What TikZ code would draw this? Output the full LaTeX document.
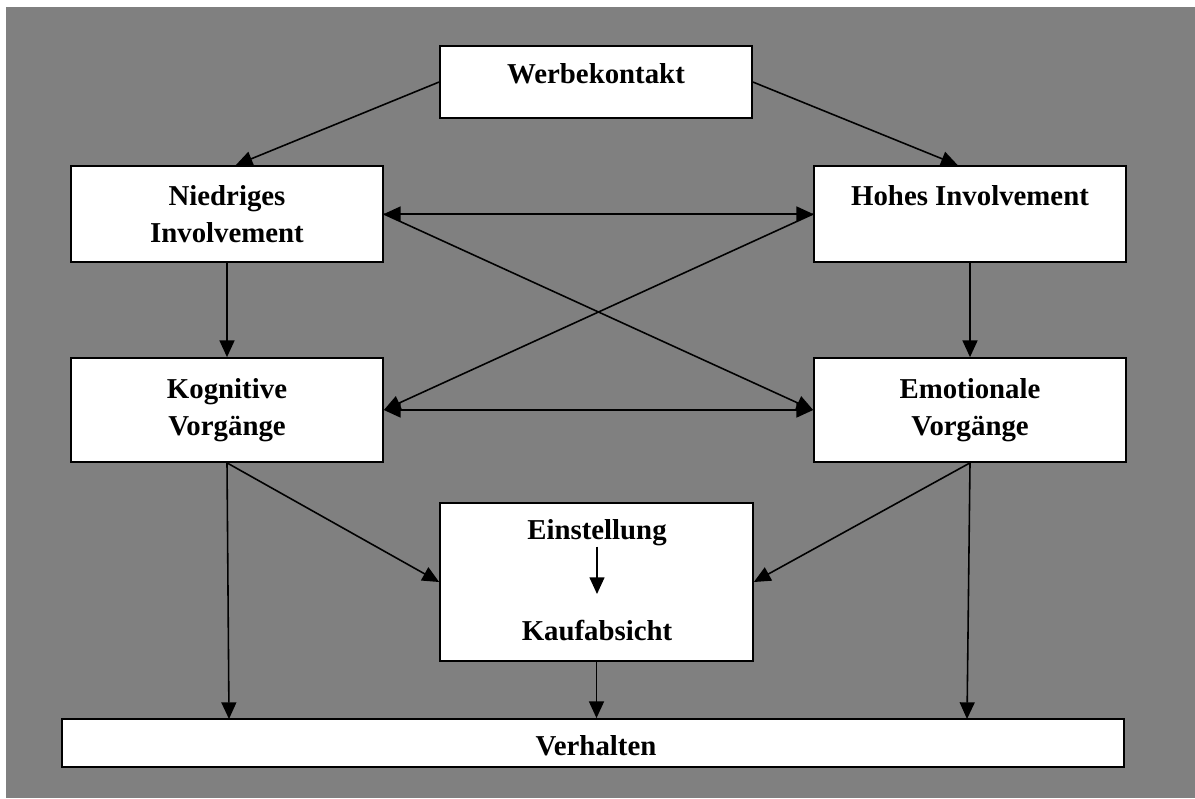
\documentclass[tikz,border=0pt]{standalone}
\usepackage{fontspec}
\setmainfont{Liberation Serif}
\usepackage{tikz}
\usetikzlibrary{arrows.meta}
\usepackage{xcolor}
\definecolor{bggray}{RGB}{128,128,128}

\begin{document}
\begin{tikzpicture}[x=0.02cm, y=-0.02cm]
        % Stile: weiße Kästen mit schwarzem Rand, fette Schrift, Pfeile
        \tikzstyle{box}=[draw=black, line width=1pt, fill=white, inner sep=0pt]
        \tikzstyle{txt}=[font=\bfseries\fontsize{16.4}{21}\selectfont, align=center, inner sep=0pt]
        \tikzstyle{arr}=[line width=0.9pt, -{Triangle[length=9.5pt, width=8.5pt]}]
        \tikzstyle{darr}=[line width=0.9pt, {Triangle[length=9.5pt, width=8.5pt]}-{Triangle[length=9.5pt, width=8.5pt]}]

        % Hintergrund
        \useasboundingbox (0,0) rectangle (1195,798);
        \fill[bggray] (6,7) rectangle (1195,798);

        % Kästen
        \node[box, minimum width=6.24cm, minimum height=1.44cm] (werbe) at (596,82) {};
        \node[txt] (werbeT) at (596,74) {Werbekontakt};
        \node[box, txt, minimum width=6.24cm, minimum height=1.92cm] (nied) at (227,214) {Niedriges\\Involvement};
        \node[box, txt, minimum width=6.24cm, minimum height=1.92cm] (hohes) at (970,214) {Hohes Involvement\\\mbox{}};
        \node[box, txt, minimum width=6.24cm, minimum height=2.08cm] (kog) at (227,410) {Kognitive\\Vorgänge};
        \node[box, txt, minimum width=6.24cm, minimum height=2.08cm] (emo) at (970,410) {Emotionale\\Vorgänge};
        \node[box, minimum width=6.26cm, minimum height=3.16cm] (einbox) at (596.5,582) {};
        \node[txt] (einst) at (597,533) {Einstellung};
        \node[txt] (kauf) at (597,631) {Kaufabsicht};
        \node[box, minimum width=21.24cm, minimum height=0.96cm] (verh) at (593,743) {};
        \node[txt] (verhT) at (596,746) {Verhalten};

        % Hilfspunkte
        \coordinate (einEnd) at (597,594);
        \coordinate (vL) at (229,719);
        \coordinate (vR) at (967,719);

        % Pfeile oben
        \draw[arr] (werbe.west) -- ([xshift=5]nied.north);
        \draw[arr] (werbe.east) -- ([xshift=-7]hohes.north);

        % Querverbindungen
        \draw[darr] (nied.east) -- (hohes.west);
        \draw[darr] (kog.east) -- (emo.west);
        \draw[arr] (nied.east) -- (emo.west);
        \draw[arr] (hohes.west) -- (kog.east);

        % senkrechte Pfeile
        \draw[arr] (nied.south) -- (kog.north);
        \draw[arr] (hohes.south) -- (emo.north);

        % zur Einstellung und zum Verhalten
        \draw[arr] (kog.south) -- (einbox.west);
        \draw[arr] (emo.south) -- (einbox.east);
        \draw[arr] (kog.south) -- (vL);
        \draw[arr] (emo.south) -- (vR);
        \draw[arr] (einbox.south) -- (verh.north -| einbox.south);
        \draw[arr] (einst.south) -- (einEnd);
    \end{tikzpicture}
\end{document}
